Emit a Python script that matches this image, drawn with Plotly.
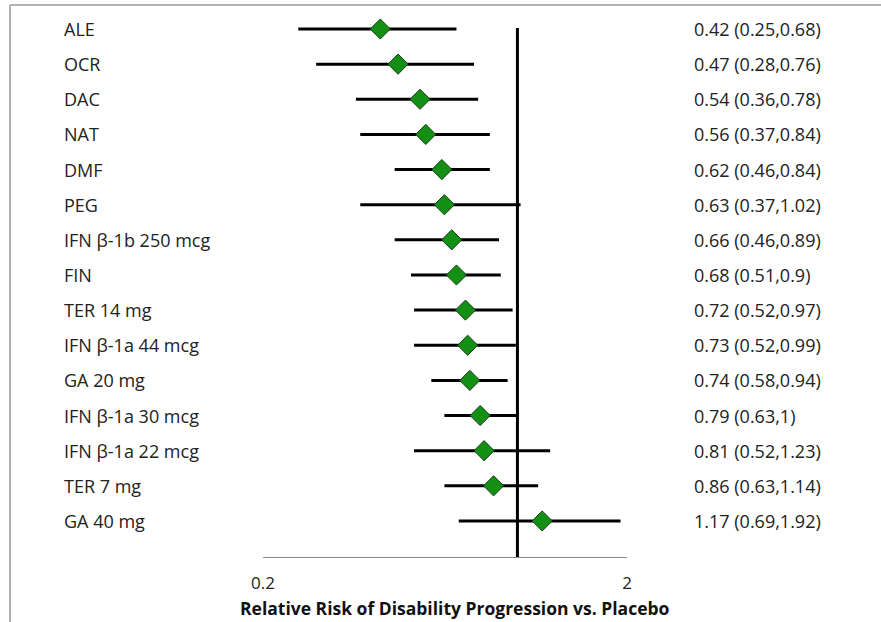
import plotly.graph_objects as go

labels = ["ALE", "OCR", "DAC", "NAT", "DMF", "PEG", "IFN β-1b 250 mcg", "FIN",
          "TER 14 mg", "IFN β-1a 44 mcg", "GA 20 mg", "IFN β-1a 30 mcg",
          "IFN β-1a 22 mcg", "TER 7 mg", "GA 40 mg"]
rr = [0.42, 0.47, 0.54, 0.56, 0.62, 0.63, 0.66, 0.68, 0.72, 0.73, 0.74, 0.79, 0.81, 0.86, 1.17]
lo = [0.25, 0.28, 0.36, 0.37, 0.46, 0.37, 0.46, 0.51, 0.52, 0.52, 0.58, 0.63, 0.52, 0.63, 0.69]
hi = [0.68, 0.76, 0.78, 0.84, 0.84, 1.02, 0.89, 0.9, 0.97, 0.99, 0.94, 1, 1.23, 1.14, 1.92]
tick_vals = [0.2, 2]
tick_text = ["0.2", "2"]
x_title = "Relative Risk of Disability Progression vs. Placebo"

W, H = 881, 622
FONT = "Open Sans"
ypos = list(range(len(labels)))

fig = go.Figure()

# CI lines
xs, ys = [], []
for i in ypos:
    xs += [lo[i], hi[i], None]
    ys += [i, i, None]
fig.add_trace(go.Scatter(x=xs, y=ys, mode="lines",
                         line=dict(color="black", width=3), hoverinfo="skip",
                         showlegend=False))

# reference line at 1
fig.add_trace(go.Scatter(x=[1, 1], y=[-0.03, 15.03], mode="lines",
                         line=dict(color="black", width=3), hoverinfo="skip",
                         showlegend=False))

# point estimates
fig.add_trace(go.Scatter(x=rr, y=ypos, mode="markers",
                         marker=dict(symbol="diamond", size=15.5, color="#139013",
                                     line=dict(color="#1a3a1a", width=1)),
                         showlegend=False))

annotations = []
for i in ypos:
    annotations.append(dict(x=62 / W, xref="paper", y=i, yref="y", text=labels[i],
                            showarrow=False, xanchor="left", yanchor="middle",
                            font=dict(family=FONT, size=18, color="#222")))
    annotations.append(dict(x=692 / W, xref="paper", y=i, yref="y",
                            text=f"{rr[i]:g} ({lo[i]:g},{hi[i]:g})",
                            showarrow=False, xanchor="left", yanchor="middle",
                            font=dict(family=FONT, size=18, color="#222")))
annotations.append(dict(x=455 / W, xref="paper", y=1 - 608 / H, yref="paper",
                        text="<b>" + x_title + "</b>", showarrow=False,
                        xanchor="center", yanchor="middle",
                        font=dict(family=FONT, size=17.5, color="#111")))

shapes = [
    dict(type="line", xref="paper", yref="paper", x0=10 / W, x1=1, y0=1 - 5 / H, y1=1 - 5 / H,
         line=dict(color="#9a9a9a", width=1.5)),
    dict(type="line", xref="paper", yref="paper", x0=10 / W, x1=10 / W, y0=0, y1=1 - 5 / H,
         line=dict(color="#9a9a9a", width=1.5)),
]

top_i = (5 - 29) / 35.14
bot_i = (557 - 29) / 35.14

fig.update_layout(
    width=W, height=H,
    margin=dict(l=0, r=0, t=0, b=0, autoexpand=False),
    paper_bgcolor="white", plot_bgcolor="white",
    xaxis=dict(type="log", domain=[263 / W, 627 / W],
               range=[-0.69897, 0.30103], automargin=False,
               tickvals=tick_vals, ticktext=tick_text,
               ticks="inside", ticklen=5, tickcolor="#8a8a8a",
               showline=True, linecolor="#8a8a8a", linewidth=1,
               showgrid=False, zeroline=False, ticklabelstandoff=11,
               tickfont=dict(family=FONT, size=17, color="#222")),
    yaxis=dict(domain=[1 - 557 / H, 1 - 5 / H], range=[bot_i, top_i],
               automargin=False,
               showticklabels=False, showgrid=False, zeroline=False,
               showline=False, ticks=""),
    annotations=annotations,
    shapes=shapes,
)

fig.write_html("out.html")
